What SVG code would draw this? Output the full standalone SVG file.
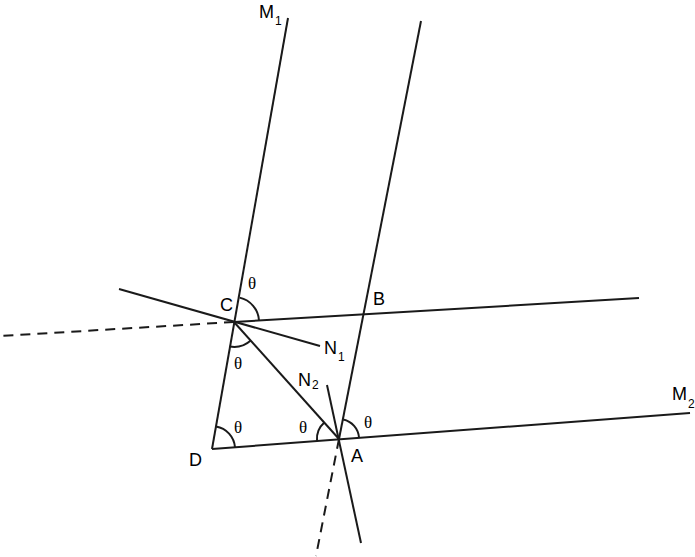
<svg xmlns="http://www.w3.org/2000/svg" width="695" height="557" viewBox="0 0 695 557">
<style>
.l{stroke:#1a1a1a;stroke-width:2;fill:none;stroke-linecap:butt}
.d{stroke:#1a1a1a;stroke-width:2;fill:none;stroke-dasharray:10 7}
.a{stroke:#1a1a1a;stroke-width:2;fill:none}
.t{font-family:"Liberation Sans",Arial,sans-serif;font-size:18px;fill:#000}
.s{font-family:"Liberation Sans",Arial,sans-serif;font-size:12px;fill:#000}
.th{font-family:"Liberation Serif","Times New Roman",serif;font-size:17px;fill:#000}
</style>
<rect width="695" height="557" fill="#fff"/>
<g id="connectors">
<line class="l" x1="288" y1="18" x2="212" y2="449"/>
<line class="l" x1="421" y1="21" x2="339" y2="439"/>
<line class="l" x1="234" y1="322" x2="639" y2="298"/>
<line class="d" x1="234" y1="322" x2="0" y2="336"/>
<line class="l" x1="119" y1="289" x2="320" y2="346"/>
<line class="l" x1="234" y1="322" x2="339" y2="439"/>
<line class="l" x1="212" y1="449" x2="690" y2="413"/>
<line class="l" x1="327" y1="385" x2="361" y2="543"/>
<line class="d" x1="339" y1="439" x2="316" y2="556"/>
</g>
<g id="arcs">
<path class="a" d="M 239.6 297.6 A 25 25 0 0 1 259 320.5"/>
<path class="a" d="M 229.6 346.6 A 25 25 0 0 0 250.7 340.6"/>
<path class="a" d="M 216 426.4 A 23 23 0 0 1 235 447.3"/>
<path class="a" d="M 317 440.7 A 22 22 0 0 1 324.3 422.6"/>
<path class="a" d="M 343.2 419.4 A 20 20 0 0 1 359 437.5"/>
</g>
<g id="labels">
<text class="t" x="220" y="311">C</text>
<text class="t" x="373" y="305">B</text>
<text class="t" x="189" y="466">D</text>
<text class="t" x="351" y="462">A</text>
<g id="N1"><text class="t" x="324" y="354">N</text><text class="s" x="338" y="361">1</text></g>
<g id="N2"><text class="t" x="298" y="386">N</text><text class="s" x="312" y="389">2</text></g>
<g id="M1"><text class="t" x="259" y="18">M</text><text class="s" x="275" y="25">1</text></g>
<g id="M2"><text class="t" x="672" y="400">M</text><text class="s" x="688" y="408">2</text></g>
<text class="th" x="248" y="289">θ</text>
<text class="th" x="234" y="369">θ</text>
<text class="th" x="234" y="433">θ</text>
<text class="th" x="299" y="433">θ</text>
<text class="th" x="364" y="428">θ</text>
</g>
</svg>
